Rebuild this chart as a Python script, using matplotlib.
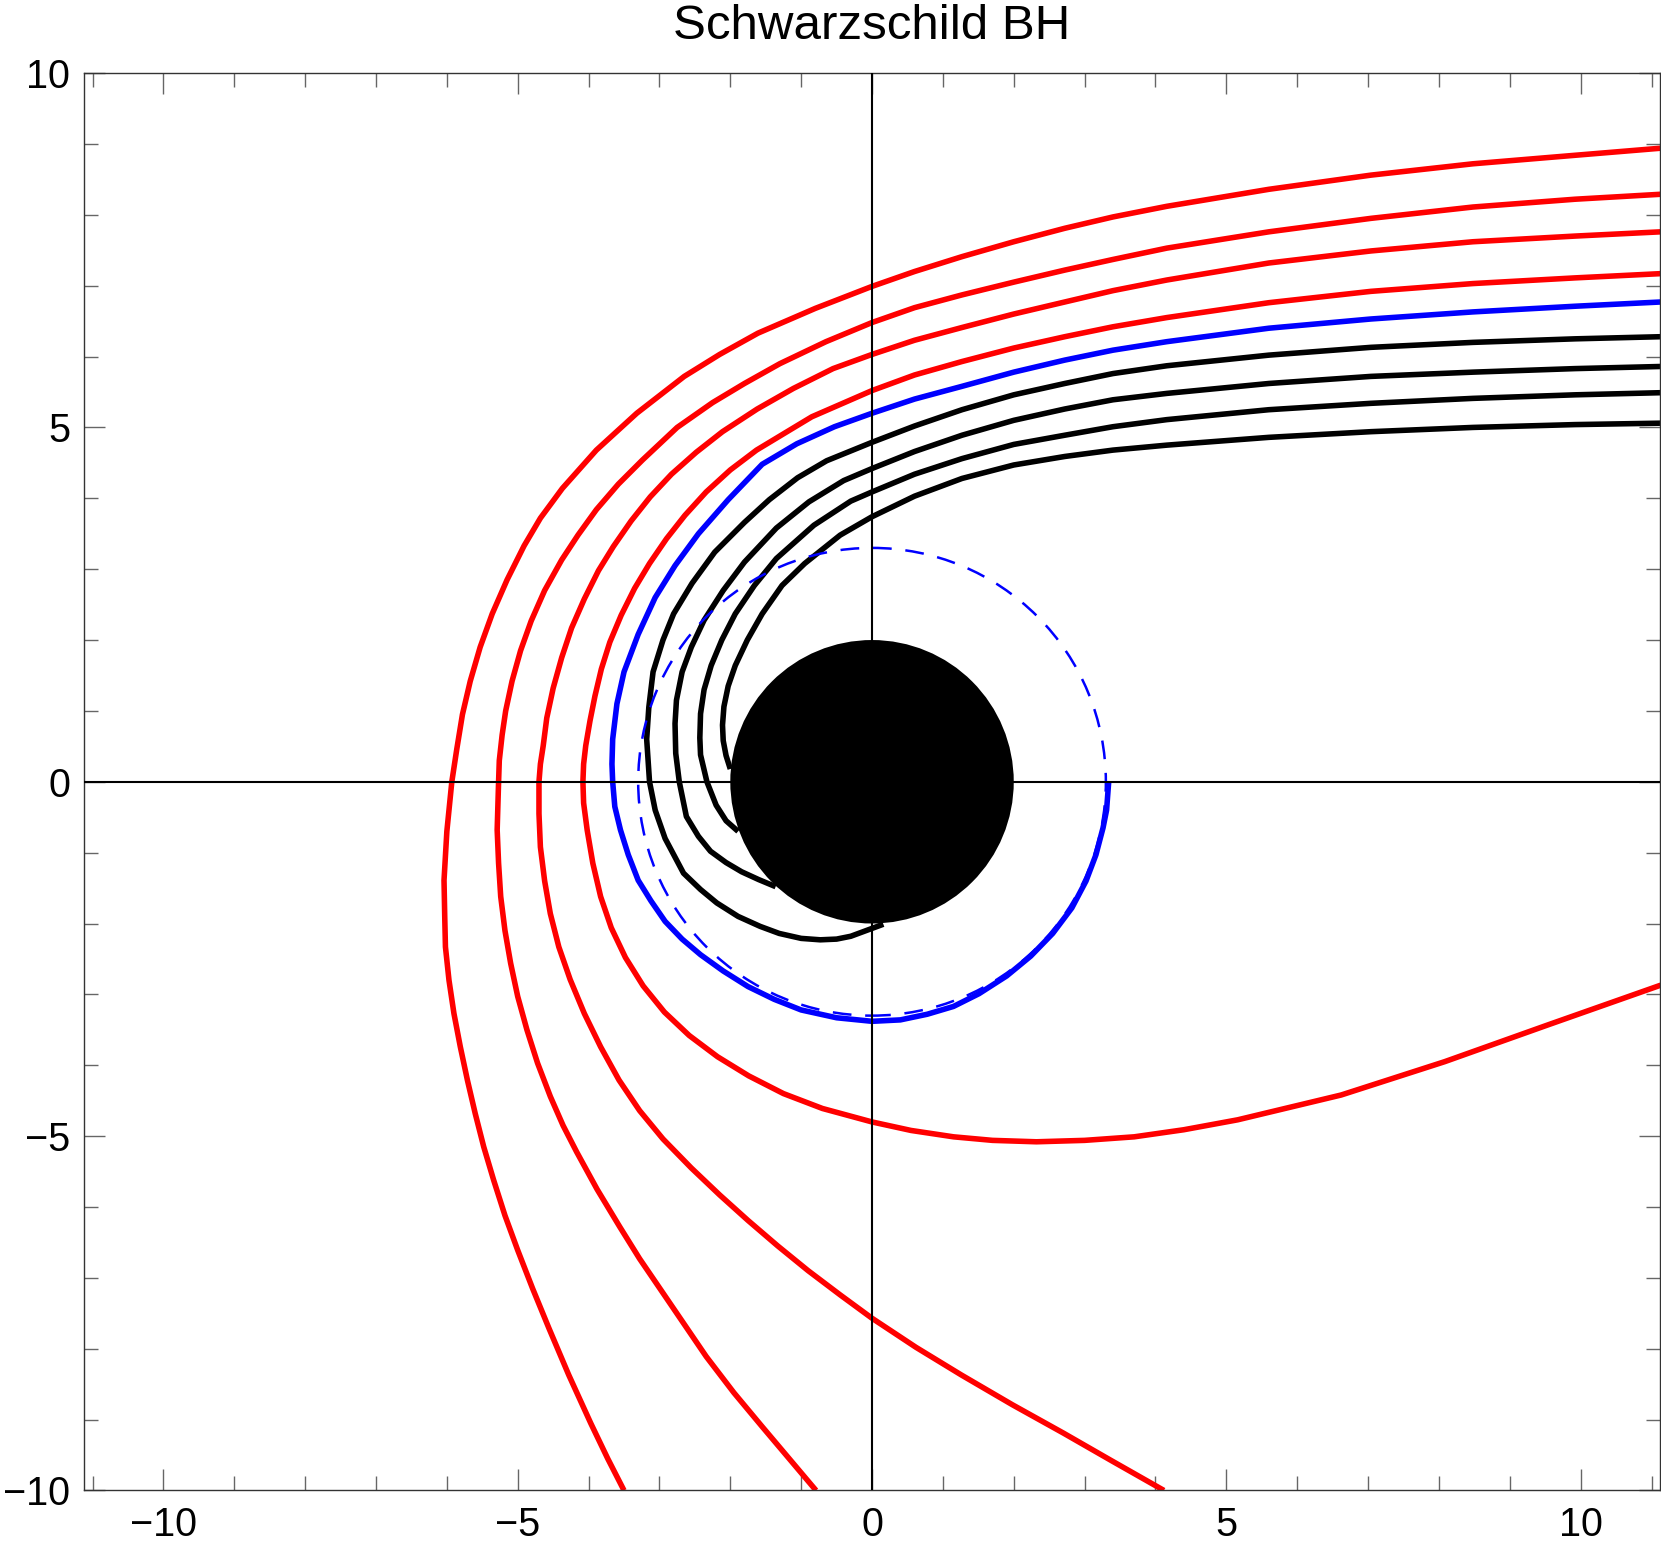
import matplotlib
matplotlib.use("Agg")
import matplotlib.pyplot as plt
from matplotlib.patches import Circle
from matplotlib.ticker import MultipleLocator

plt.rcParams['font.family'] = ['Liberation Sans', 'DejaVu Sans']

# light rays (outer -> inner)
red1_x = [11.13, 9.92, 8.48, 7.04, 5.60, 4.16, 3.40, 2.72, 2.00, 1.27, 0.60, 0.0, -0.80, -1.61,
          -2.15, -2.65, -3.32, -3.89, -4.37, -4.68, -4.91, -5.15, -5.36, -5.53, -5.67, -5.78,
          -5.86, -5.93, -6.00, -6.04, -6.03, -6.02, -5.97, -5.90, -5.81, -5.71, -5.60, -5.48,
          -5.34, -5.18, -5.00, -4.79, -4.56, -4.28, -3.97, -3.73, -3.50]
red1_y = [8.94, 8.84, 8.72, 8.56, 8.36, 8.12, 7.97, 7.81, 7.62, 7.41, 7.20, 6.99, 6.68, 6.33,
          6.03, 5.72, 5.20, 4.68, 4.14, 3.72, 3.33, 2.85, 2.37, 1.90, 1.42, 0.95,
          0.46, 0.0, -0.70, -1.39, -1.90, -2.33, -2.80, -3.27, -3.74, -4.21, -4.68, -5.15,
          -5.62, -6.12, -6.61, -7.15, -7.71, -8.37, -9.05, -9.55, -10.0]

red2_x = [11.13, 9.92, 8.48, 7.04, 5.60, 4.16, 3.40, 2.72, 2.00, 1.27, 0.60, 0.0, -0.65, -1.30,
          -1.80, -2.25, -2.75, -3.24, -3.58, -3.89, -4.15, -4.38, -4.62, -4.81, -4.96, -5.08,
          -5.17, -5.22, -5.26, -5.27, -5.29, -5.27, -5.24, -5.18, -5.10, -5.00, -4.87, -4.72,
          -4.54, -4.36, -4.17, -3.88, -3.56, -3.28, -2.98, -2.66, -2.34, -1.95, -1.55, -1.17,
          -0.79]
red2_y = [8.29, 8.22, 8.11, 7.95, 7.76, 7.53, 7.37, 7.22, 7.05, 6.87, 6.69, 6.48, 6.21, 5.90,
          5.62, 5.35, 5.00, 4.54, 4.20, 3.84, 3.48, 3.13, 2.70, 2.27, 1.85, 1.42,
          1.00, 0.66, 0.30, 0.0, -0.68, -1.15, -1.62, -2.10, -2.56, -3.03, -3.50, -3.97,
          -4.44, -4.85, -5.22, -5.75, -6.28, -6.73, -7.17, -7.64, -8.11, -8.62, -9.10, -9.55,
          -10.0]

red3_x = [11.13, 9.92, 8.48, 7.04, 5.60, 4.16, 3.40, 2.72, 2.00, 1.27, 0.60, 0.0, -0.55, -1.11,
          -1.62, -2.11, -2.48, -2.83, -3.13, -3.40, -3.65, -3.86, -4.06, -4.24, -4.38, -4.50,
          -4.59, -4.64, -4.68, -4.70, -4.70, -4.68, -4.62, -4.54, -4.42, -4.26, -4.06, -3.83,
          -3.57, -3.28, -2.95, -2.55, -2.15, -1.75, -1.33, -0.90, -0.45, 0.0, 0.62, 1.26,
          1.98, 2.70, 3.38, 4.12]
red3_y = [7.76, 7.70, 7.62, 7.49, 7.32, 7.08, 6.93, 6.77, 6.60, 6.41, 6.23, 6.03, 5.83, 5.55,
          5.26, 4.94, 4.65, 4.34, 4.02, 3.68, 3.32, 2.98, 2.58, 2.17, 1.75, 1.32,
          0.90, 0.51, 0.25, 0.0, -0.45, -0.92, -1.40, -1.86, -2.33, -2.79, -3.27, -3.74,
          -4.21, -4.64, -5.04, -5.45, -5.83, -6.19, -6.55, -6.90, -7.24, -7.57, -7.98, -8.37,
          -8.79, -9.19, -9.58, -10.0]

red4_x = [11.13, 9.92, 8.48, 7.04, 5.60, 4.16, 3.40, 2.72, 2.00, 1.27, 0.60, 0.0, -0.85, -1.63,
          -2.00, -2.34, -2.64, -2.90, -3.14, -3.35, -3.54, -3.70, -3.82, -3.91, -3.98, -4.04,
          -4.07, -4.08, -4.07, -4.02, -3.94, -3.83, -3.68, -3.48, -3.23, -2.93, -2.58, -2.18,
          -1.74, -1.25, -0.70, 0.0, 0.55, 1.15, 1.70, 2.32, 3.00, 3.70, 4.40, 5.16, 6.62, 8.08,
          9.54, 11.13]
red4_y = [7.17, 7.11, 7.03, 6.92, 6.76, 6.55, 6.42, 6.28, 6.12, 5.93, 5.74, 5.52, 5.15, 4.68,
          4.40, 4.09, 3.76, 3.43, 3.08, 2.73, 2.35, 1.97, 1.59, 1.21, 0.86, 0.51,
          0.25, 0.0, -0.30, -0.68, -1.15, -1.62, -2.06, -2.48, -2.88, -3.25, -3.58, -3.88,
          -4.15, -4.40, -4.61, -4.80, -4.92, -5.01, -5.06, -5.08, -5.06, -5.01, -4.91, -4.77,
          -4.42, -3.95, -3.43, -2.87]

blue_x = [11.13, 9.92, 8.48, 7.04, 5.60, 4.16, 3.40, 2.72, 2.00, 1.27, 0.60, 0.0, -0.53, -1.06,
          -1.55, -2.03, -2.45, -2.78, -3.06, -3.30, -3.50, -3.60, -3.66, -3.67, -3.66, -3.63,
          -3.55, -3.44, -3.30, -3.12, -2.92, -2.68, -2.42, -2.10, -1.75, -1.38, -1.00, -0.50,
          0.0, 0.40, 0.78, 1.15, 1.51, 1.90, 2.24, 2.55, 2.82, 3.02, 3.16, 3.26, 3.31, 3.34]
blue_y = [6.77, 6.71, 6.63, 6.53, 6.40, 6.21, 6.09, 5.95, 5.78, 5.58, 5.40, 5.20, 5.01, 4.77,
          4.48, 3.98, 3.50, 3.05, 2.60, 2.08, 1.55, 1.10, 0.60, 0.25, 0.0, -0.35,
          -0.68, -1.03, -1.39, -1.68, -1.97, -2.22, -2.44, -2.67, -2.89, -3.07, -3.22, -3.33,
          -3.38, -3.36, -3.28, -3.17, -2.99, -2.74, -2.46, -2.14, -1.78, -1.40, -1.03, -0.65,
          -0.40, 0.0]

black1_x = [11.13, 9.92, 8.48, 7.04, 5.60, 4.16, 3.40, 2.72, 2.00, 1.27, 0.60, 0.0, -0.64,
            -1.05, -1.45, -1.80, -2.22, -2.54, -2.80, -2.95, -3.09, -3.15, -3.18, -3.14, -3.06,
            -2.92, -2.66, -2.42, -2.19, -1.89, -1.58, -1.31, -1.00, -0.73, -0.50, -0.30, 0.16]
black1_y = [6.28, 6.25, 6.20, 6.13, 6.02, 5.87, 5.76, 5.62, 5.46, 5.25, 5.02, 4.79, 4.53,
            4.29, 3.98, 3.66, 3.24, 2.80, 2.37, 2.00, 1.55, 1.05, 0.60, 0.0, -0.40,
            -0.80, -1.29, -1.52, -1.71, -1.90, -2.04, -2.14, -2.21, -2.23, -2.22, -2.18, -2.01]

black2_x = [11.13, 9.92, 8.48, 7.04, 5.60, 4.16, 3.40, 2.72, 2.00, 1.27, 0.60, 0.0, -0.40,
            -0.89, -1.35, -1.80, -2.10, -2.37, -2.55, -2.68, -2.76, -2.78, -2.77, -2.72, -2.62,
            -2.45, -2.28, -2.06, -1.84, -1.60, -1.36]
black2_y = [5.86, 5.83, 5.78, 5.72, 5.62, 5.48, 5.39, 5.26, 5.10, 4.89, 4.66, 4.42, 4.25,
            3.95, 3.58, 3.10, 2.70, 2.28, 1.90, 1.55, 1.15, 0.82, 0.40, 0.0, -0.49,
            -0.77, -0.98, -1.14, -1.27, -1.38, -1.48]

black3_x = [11.13, 9.92, 8.48, 7.04, 5.60, 4.16, 3.40, 2.72, 2.00, 1.27, 0.60, 0.0, -0.30,
            -0.82, -1.35, -1.66, -1.93, -2.12, -2.27, -2.37, -2.42, -2.43, -2.42, -2.33, -2.20,
            -2.06, -1.89]
black3_y = [5.49, 5.46, 5.41, 5.34, 5.25, 5.11, 5.01, 4.89, 4.76, 4.56, 4.34, 4.09, 3.96,
            3.62, 3.15, 2.77, 2.37, 2.00, 1.64, 1.30, 0.96, 0.62, 0.38, 0.0, -0.33,
            -0.55, -0.70]

black4_x = [11.13, 9.92, 8.48, 7.04, 5.60, 4.16, 3.40, 2.72, 2.00, 1.27, 0.60, 0.0, -0.45,
            -0.95, -1.27, -1.55, -1.76, -1.93, -2.03, -2.09, -2.11, -2.10, -2.06, -2.00]
black4_y = [5.06, 5.04, 5.00, 4.94, 4.86, 4.75, 4.68, 4.59, 4.47, 4.28, 4.03, 3.74, 3.48,
            3.08, 2.77, 2.37, 2.00, 1.64, 1.35, 1.06, 0.80, 0.58, 0.37, 0.18]

horizon_r = 2.0
ring_r = 3.3

rays = [
    (red1_x, red1_y, 'red'),
    (red2_x, red2_y, 'red'),
    (red3_x, red3_y, 'red'),
    (red4_x, red4_y, 'red'),
    (blue_x, blue_y, 'blue'),
    (black1_x, black1_y, 'black'),
    (black2_x, black2_y, 'black'),
    (black3_x, black3_y, 'black'),
    (black4_x, black4_y, 'black'),
]

fig = plt.figure(figsize=(16.61, 15.45), dpi=100)
ax = fig.add_axes([0.0506, 0.0353, 0.9488, 0.9174])

for xs, ys, c in rays:
    ax.plot(xs, ys, color=c, lw=4.0, solid_joinstyle='round', solid_capstyle='butt', zorder=2)

ax.add_patch(Circle((0, 0), ring_r, fill=False, edgecolor='blue', lw=1.8,
                    linestyle=(0, (7.5, 5.5)), zorder=2.5))
ax.add_patch(Circle((0, 0), horizon_r, facecolor='black', edgecolor='none', zorder=3))

ax.axhline(0, color='black', lw=1.5, zorder=4)
ax.axvline(0, color='black', lw=1.5, zorder=4)

ax.set_xlim(-11.12, 11.12)
ax.set_ylim(-10, 10)

ax.xaxis.set_major_locator(MultipleLocator(5))
ax.xaxis.set_minor_locator(MultipleLocator(1))
ax.yaxis.set_major_locator(MultipleLocator(5))
ax.yaxis.set_minor_locator(MultipleLocator(1))
ax.tick_params(which='both', direction='in', top=True, right=True, color='#666666',
               labelsize=28.5)
ax.tick_params(axis='x', which='both', pad=11)
ax.tick_params(axis='y', which='both', pad=10)
ax.tick_params(which='major', length=15, width=1.0)
ax.tick_params(which='minor', length=10, width=1.0)
for s in ax.spines.values():
    s.set_color('#333333')
    s.set_linewidth(1.0)

ax.set_title('Schwarzschild BH', fontsize=35.5, pad=24.5)

fig.savefig('out.png', dpi=100)
